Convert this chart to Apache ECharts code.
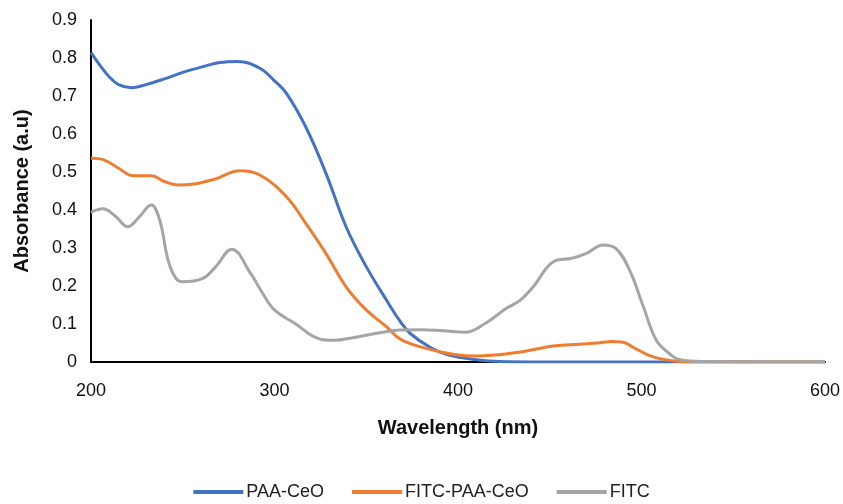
<!DOCTYPE html>
<html>
<head>
<meta charset="utf-8">
<script src="https://cdn.jsdelivr.net/npm/echarts@6/dist/echarts.min.js"></script>
<style>
  html, body { margin: 0; padding: 0; background: #fff; }
  #chart { width: 843px; height: 504px; }
</style>
</head>
<body>
<div id="chart"></div>
<script>
// wavelength (nm) / absorbance pairs
const paaWave = [200, 205, 210, 215, 222, 230, 240, 250, 260, 270, 280, 292, 300, 306.5, 317, 328, 339, 350, 361, 368, 374, 385, 395, 410, 423, 440, 500, 550, 600]
const paaAbs = [0.814, 0.78, 0.75, 0.73, 0.722, 0.73, 0.745, 0.762, 0.776, 0.788, 0.791, 0.773, 0.74, 0.707, 0.619, 0.497, 0.356, 0.251, 0.163, 0.11, 0.075, 0.038, 0.018, 0.006, 0.001, 0, 0, 0, 0]

const fitcPaaWave = [200, 207, 215, 223, 233, 240, 247, 258, 268, 281, 292, 306.5, 317, 328, 339, 350, 361, 368, 376, 386, 398, 410, 432, 452, 466, 476, 484, 490, 495, 506, 519, 530, 600]
const fitcPaaAbs = [0.536, 0.532, 0.51, 0.49, 0.49, 0.475, 0.466, 0.47, 0.482, 0.503, 0.492, 0.435, 0.365, 0.286, 0.198, 0.137, 0.093, 0.062, 0.045, 0.032, 0.02, 0.016, 0.025, 0.042, 0.047, 0.05, 0.054, 0.052, 0.04, 0.014, 0.002, 0, 0]

const fitcWave = [200, 206.5, 213, 220, 226, 232.8, 237.4, 242, 246, 250, 261, 268, 276.7, 287, 293, 300, 311, 325, 333, 342.6, 355, 368, 380, 392, 404, 415, 426, 434, 441, 452, 462, 470, 479, 486, 493.5, 501, 508, 515, 521, 535, 560, 600]
const fitcAbs = [0.394, 0.403, 0.385, 0.356, 0.38, 0.413, 0.374, 0.268, 0.222, 0.211, 0.22, 0.251, 0.297, 0.233, 0.185, 0.137, 0.102, 0.06, 0.057, 0.064, 0.075, 0.084, 0.085, 0.082, 0.078, 0.102, 0.14, 0.163, 0.198, 0.264, 0.273, 0.286, 0.308, 0.299, 0.242, 0.146, 0.058, 0.023, 0.006, 0.001, 0, 0]

const xTicks = [200, 300, 400, 500, 600]
const yTicks = [0, 0.1, 0.2, 0.3, 0.4, 0.5, 0.6, 0.7, 0.8, 0.9]

const pairs = (xs, ys) => xs.map((x, i) => [x, ys[i]])

const chart = echarts.init(document.getElementById('chart'))
const font = "'Liberation Sans', 'Open Sans', sans-serif"

const mkLine = (name, xs, ys, color) => ({
  name: name,
  type: 'line',
  smooth: 0.4,
  symbol: 'none',
  data: pairs(xs, ys),
  lineStyle: { color: color, width: 3 },
  itemStyle: { color: color }
})

chart.setOption({
  animation: false,
  textStyle: { fontFamily: font },
  grid: { left: 91, right: 17, top: 20, bottom: 142 },
  legend: {
    top: 478,
    left: 'center',
    icon: 'rect',
    itemWidth: 50,
    itemHeight: 4,
    itemGap: 28,
    textStyle: { fontSize: 18, color: '#222', fontFamily: font, padding: [0, 0, 0, -2] },
    data: ['PAA-CeO', 'FITC-PAA-CeO', 'FITC']
  },
  xAxis: {
    type: 'value',
    min: xTicks[0],
    max: xTicks[xTicks.length - 1],
    interval: 100,
    name: 'Wavelength (nm)',
    nameLocation: 'middle',
    nameGap: 56,
    nameTextStyle: { fontSize: 20, fontWeight: 'bold', color: '#111', fontFamily: font },
    axisLine: { lineStyle: { color: '#000', width: 2 } },
    axisTick: { show: false },
    splitLine: { show: false },
    axisLabel: { fontSize: 18, color: '#111', margin: 20 }
  },
  yAxis: {
    type: 'value',
    min: 0,
    max: yTicks[yTicks.length - 1],
    interval: 0.1,
    name: 'Absorbance (a.u)',
    nameLocation: 'middle',
    nameGap: 59,
    nameTextStyle: { fontSize: 20, fontWeight: 'bold', color: '#111', fontFamily: font },
    axisLine: { show: true, lineStyle: { color: '#000', width: 2 } },
    axisTick: { show: false },
    splitLine: { show: false },
    axisLabel: {
      fontSize: 18,
      color: '#111',
      margin: 14,
      formatter: (v) => (v === 0 ? '0' : v.toFixed(1))
    }
  },
  series: [
    mkLine('PAA-CeO', paaWave, paaAbs, '#4472C4'),
    mkLine('FITC-PAA-CeO', fitcPaaWave, fitcPaaAbs, '#ED7D31'),
    mkLine('FITC', fitcWave, fitcAbs, '#A5A5A5')
  ]
})
</script>
</body>
</html>
